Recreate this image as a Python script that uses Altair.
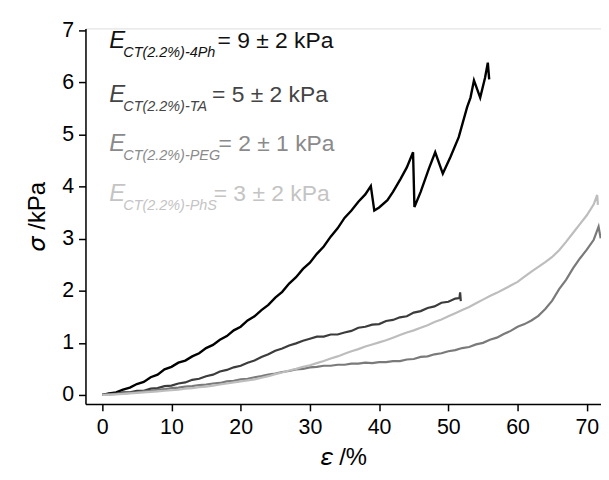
import altair as alt
import pandas as pd

# ---------------- data ----------------
BLACK_X = list(range(0, 39)) + [38.8, 39.3, 40, 41.2, 42, 43.1, 44, 44.9, 45.1, 46, 47.2, 48.1,
                                49.2, 50.3, 51.5, 52.7, 53.2, 53.7, 54.6, 55.3, 55.7, 55.9]
BLACK_Y = [0.00, 0.03, 0.05, 0.10, 0.14, 0.21, 0.25, 0.34, 0.39, 0.49, 0.54, 0.62, 0.66, 0.74,
           0.80, 0.90, 0.96, 1.06, 1.13, 1.24, 1.31, 1.43, 1.51, 1.63, 1.73, 1.87, 1.98, 2.14,
           2.26, 2.42, 2.54, 2.71, 2.85, 3.04, 3.20, 3.40, 3.54, 3.71, 3.85,
           4.01, 3.54, 3.60, 3.74, 3.90, 4.15, 4.37, 4.66, 3.61, 3.90, 4.35, 4.66,
           4.25, 4.57, 4.95, 5.52, 5.71, 6.04, 5.71, 6.09, 6.38, 6.06]

TA_X = list(range(0, 52)) + [51.6, 51.7, 51.8]
TA_Y = [0.00, 0.02, 0.02, 0.05, 0.05, 0.08, 0.08, 0.12, 0.13, 0.17, 0.18, 0.22, 0.24, 0.29,
        0.31, 0.36, 0.39, 0.45, 0.48, 0.53, 0.56, 0.62, 0.66, 0.73, 0.78, 0.85, 0.89, 0.95,
        0.99, 1.04, 1.08, 1.12, 1.12, 1.16, 1.16, 1.20, 1.23, 1.29, 1.31, 1.35, 1.36, 1.42,
        1.44, 1.49, 1.51, 1.58, 1.61, 1.67, 1.70, 1.77, 1.79, 1.85, 1.86, 1.97, 1.80]

PEG_X = list(range(0, 72)) + [71.7, 72.0]
PEG_Y = [0.00, 0.01, 0.02, 0.03, 0.04, 0.05, 0.07, 0.08, 0.10, 0.11, 0.13, 0.14, 0.16, 0.17,
         0.19, 0.20, 0.22, 0.23, 0.26, 0.27, 0.30, 0.31, 0.34, 0.36, 0.39, 0.41, 0.44, 0.46,
         0.49, 0.50, 0.53, 0.54, 0.56, 0.56, 0.58, 0.58, 0.60, 0.60, 0.62, 0.61, 0.63, 0.63,
         0.65, 0.65, 0.68, 0.69, 0.73, 0.74, 0.78, 0.80, 0.84, 0.86, 0.90, 0.92, 0.97, 1.00,
         1.06, 1.10, 1.17, 1.23, 1.31, 1.36, 1.43, 1.52, 1.65, 1.81, 2.03, 2.21, 2.43, 2.62,
         2.79, 2.98, 3.23, 3.01]

PHS_X = list(range(0, 72)) + [71.5, 71.6]
PHS_Y = [0.00, 0.00, 0.01, 0.02, 0.03, 0.04, 0.05, 0.06, 0.07, 0.08, 0.09, 0.10, 0.12, 0.13,
         0.15, 0.16, 0.18, 0.20, 0.22, 0.24, 0.26, 0.28, 0.30, 0.33, 0.36, 0.40, 0.43, 0.47,
         0.50, 0.54, 0.57, 0.61, 0.65, 0.70, 0.74, 0.79, 0.84, 0.88, 0.93, 0.97, 1.01, 1.05,
         1.10, 1.15, 1.20, 1.24, 1.29, 1.34, 1.40, 1.45, 1.51, 1.57, 1.63, 1.69, 1.76, 1.83,
         1.90, 1.96, 2.03, 2.10, 2.17, 2.27, 2.37, 2.46, 2.55, 2.65, 2.78, 2.94, 3.11, 3.28,
         3.45, 3.66, 3.84, 3.65]

SERIES = ["4Ph", "TA", "PEG", "PhS"]
LINE_COLORS = ["#000000", "#3c3c3c", "#7a7a7a", "#bdbdbd"]
LINE_WIDTHS = [2.4, 2.2, 2.2, 2.2]

SUBSCRIPTS = ["CT(2.2%)-4Ph", "CT(2.2%)-TA", "CT(2.2%)-PEG", "CT(2.2%)-PhS"]
VALUES = ["= 9 \u00b1 2 kPa", "= 5 \u00b1 2 kPa", "= 2 \u00b1 1 kPa", "= 3 \u00b1 2 kPa"]
TEXT_COLORS = ["#111111", "#444444", "#8a8a8a", "#c4c4c4"]

X_TICKS = list(range(0, 75, 5))
Y_TICKS = [v / 2 for v in range(0, 15)]

# ---------------- build tables ----------------
rows = []
for name, xs, ys, w in [("4Ph", BLACK_X, BLACK_Y, LINE_WIDTHS[0]), ("TA", TA_X, TA_Y, LINE_WIDTHS[1]),
                        ("PEG", PEG_X, PEG_Y, LINE_WIDTHS[2]), ("PhS", PHS_X, PHS_Y, LINE_WIDTHS[3])]:
    assert len(xs) == len(ys), (name, len(xs), len(ys))
    for i, (a, b) in enumerate(zip(xs, ys)):
        rows.append({"series": name, "i": i, "x": a, "y": b, "w": w})
curves = pd.DataFrame(rows)

# annotation anchor positions (data units)
E_X = 1.0
E_Y = [6.66, 5.63, 4.68, 3.72]
SUB_X = 3.05
SUB_DY = 0.17
VAL_X = [16.65, 15.85, 16.8, 16.1]

ann = pd.DataFrame({
    "sub": SUBSCRIPTS,
    "val": VALUES,
    "color": TEXT_COLORS,
    "ey": E_Y,
    "sy": [v - SUB_DY for v in E_Y],
    "vx": VAL_X,
    "ex": [E_X] * 4,
    "sx": [SUB_X] * 4,
    "E": ["E"] * 4,
})

FONT = "Liberation Sans"

xscale = alt.Scale(domain=[-2.42, 72.05], nice=False, zero=False)
yscale = alt.Scale(domain=[-0.172, 7.038], nice=False, zero=False)

x_axis = alt.Axis(
    values=X_TICKS, grid=False, title="\U0001D700 /%",
    labelExpr="datum.value % 10 === 0 ? datum.label : ''",
    tickSize={"condition": {"test": "datum.value % 10 !== 0", "value": 4}, "value": 7},
    domainColor="black", domainWidth=1.5, tickColor="black", tickWidth=1.5,
    labelFont=FONT, labelFontSize=21.5, labelColor="black", labelPadding=6,
    titleFont=FONT, titleFontSize=24, titleFontWeight="normal", titleColor="black",
    titlePadding=8, format="d",
)
y_axis = alt.Axis(
    values=Y_TICKS, grid=False, title="\U0001D70E /kPa",
    labelExpr="datum.value % 1 === 0 ? datum.label : ''",
    tickSize={"condition": {"test": "datum.value % 1 !== 0", "value": 4}, "value": 7},
    domainColor="black", domainWidth=1.5, tickColor="black", tickWidth=1.5,
    labelFont=FONT, labelFontSize=21.5, labelColor="black", labelPadding=5,
    titleFont=FONT, titleFontSize=24, titleFontWeight="normal", titleColor="black",
    titlePadding=12, format="d",
)

lines = alt.Chart(curves).mark_line(clip=True).encode(
    x=alt.X("x:Q", scale=xscale, axis=x_axis),
    y=alt.Y("y:Q", scale=yscale, axis=y_axis),
    color=alt.Color("series:N", scale=alt.Scale(domain=SERIES, range=LINE_COLORS), legend=None),
    strokeWidth=alt.StrokeWidth("w:Q", scale=None),
    order=alt.Order("i:Q"),
)

base_t = alt.Chart(ann)
e_txt = base_t.mark_text(align="left", baseline="alphabetic", font=FONT, fontStyle="italic",
                         fontSize=24).encode(
    x=alt.X("ex:Q", scale=xscale), y=alt.Y("ey:Q", scale=yscale),
    text="E:N", color=alt.Color("color:N", scale=None))
s_txt = base_t.mark_text(align="left", baseline="alphabetic", font=FONT, fontStyle="italic",
                         fontSize=14.5).encode(
    x=alt.X("sx:Q", scale=xscale), y=alt.Y("sy:Q", scale=yscale),
    text="sub:N", color=alt.Color("color:N", scale=None))
v_txt = base_t.mark_text(align="left", baseline="alphabetic", font=FONT,
                         fontSize=23).encode(
    x=alt.X("vx:Q", scale=xscale), y=alt.Y("ey:Q", scale=yscale),
    text="val:N", color=alt.Color("color:N", scale=None))

chart = alt.layer(lines, e_txt, s_txt, v_txt).properties(
    width=519, height=378,
    autosize=alt.AutoSizeParams(type="none"),
    padding={"left": 78, "top": 19, "right": 0, "bottom": 67},
).configure_view(stroke=None).configure(background="white")

chart.save("out.html", embed_options={"renderer": "svg", "actions": False})
